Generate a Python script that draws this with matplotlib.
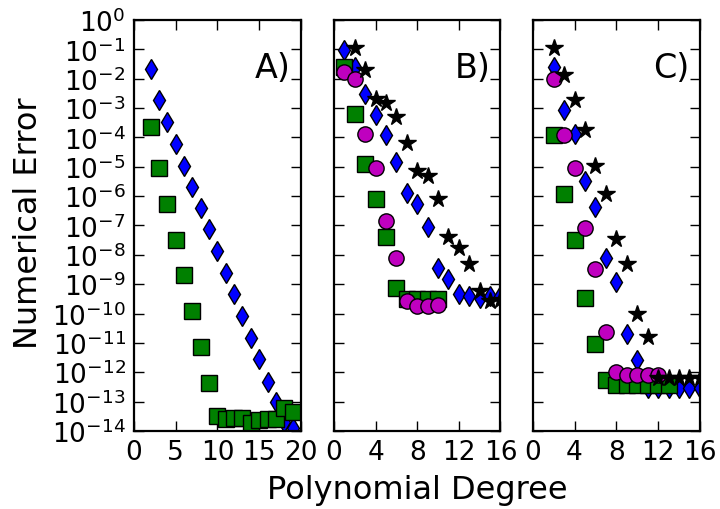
import numpy as np
import matplotlib
matplotlib.use('Agg')
import matplotlib.pyplot as plt
from matplotlib.ticker import FixedLocator, FixedFormatter, NullLocator

plt.rcParams['xtick.direction'] = 'in'
plt.rcParams['ytick.direction'] = 'in'
plt.rcParams['xtick.top'] = True
plt.rcParams['ytick.right'] = True

# values, stored as log10(error)
# panel A
xA = list(range(2, 20))
A_diamond = [-1.67, -2.72, -3.48, -4.24, -4.96, -5.69, -6.40, -7.13, -7.87,
             -8.61, -9.33, -10.08, -10.82, -11.56, -12.32, -13.03, -13.7, -13.9]
A_square = [-3.65, -5.03, -6.26, -7.48, -8.70, -9.92, -11.15, -12.36, -13.5,
            -13.6, -13.55, -13.55, -13.74, -13.62, -13.58, -13.58, -13.22, -13.36]

# panel B
xB_diamond = list(range(1, 17))
B_diamond = [-1.04, -1.61, -2.52, -3.23, -3.93, -4.84, -5.88, -6.26, -7.06,
             -8.45, -8.82, -9.34, -9.42, -9.48, -9.40, -9.40]
xB_star = list(range(2, 17))
B_star = [-0.96, -1.72, -2.69, -2.82, -3.31, -4.18, -5.13, -5.33, -6.09,
          -7.39, -7.77, -8.32, -9.24, -9.58, -9.55]
xB_square = list(range(1, 11))
B_square = [-1.61, -3.20, -4.90, -6.09, -7.41, -9.13, -9.52, -9.50, -9.50, -9.50]
xB_circle = list(range(1, 11))
B_circle = [-1.78, -2.00, -3.90, -5.04, -6.86, -8.11, -9.57, -9.74, -9.74, -9.72]

# panel C
xC_star = list(range(2, 17))
C_star = [-0.96, -1.86, -2.74, -3.75, -4.99, -5.94, -7.47, -8.30, -10.02,
          -10.79, -12.2, -12.2, -12.2, -12.2, -12.2]
xC_diamond = list(range(2, 17))
C_diamond = [-1.62, -3.08, -3.88, -5.50, -6.37, -8.11, -8.92, -10.71, -11.59,
             -12.55, -12.55, -12.55, -12.55, -12.55, -12.55]
xC_circle = list(range(2, 13))
C_circle = [-2.00, -3.93, -5.04, -7.09, -8.49, -10.63, -11.98, -12.08, -12.10,
            -12.10, -12.10]
xC_square = list(range(2, 14))
C_square = [-3.92, -5.92, -7.50, -9.46, -11.04, -12.27, -12.42, -12.44, -12.44,
            -12.44, -12.44, -12.44]

panel_labels = ['A)', 'B)', 'C)']
panel_xmax = [20, 16, 16]
xticksA = [0, 5, 10, 15, 20]
xticksBC = [0, 4, 8, 12, 16]
ytick_pow = list(range(0, -15, -1))
ytick_labels = ['$10^{%d}$' % p for p in ytick_pow]

blue = '#0000ff'
green = '#008000'
magenta = '#bf00bf'


def mk(ax, x, logy, marker, color, ms):
    ax.plot(x, 10.0 ** np.array(logy), linestyle='none', marker=marker,
            markersize=ms, markerfacecolor=color, markeredgecolor='k',
            markeredgewidth=1.0)


fig = plt.figure(figsize=(7.2, 5.1), dpi=100)
axA = fig.add_axes([0.186, 0.153, 0.232, 0.806])
axB = fig.add_axes([0.464, 0.153, 0.231, 0.806])
axC = fig.add_axes([0.740, 0.153, 0.232, 0.806])

mk(axA, xA, A_diamond, 'd', blue, 10.5)
mk(axA, xA, A_square, 's', green, 11)

mk(axB, xB_diamond, B_diamond, 'd', blue, 10.5)
mk(axB, xB_square, B_square, 's', green, 11)
mk(axB, xB_circle, B_circle, 'o', magenta, 11)
mk(axB, xB_star, B_star, '*', 'k', 13)

mk(axC, xC_diamond, C_diamond, 'd', blue, 10.5)
mk(axC, xC_square, C_square, 's', green, 11)
mk(axC, xC_circle, C_circle, 'o', magenta, 11)
mk(axC, xC_star, C_star, '*', 'k', 13)

axes = [axA, axB, axC]
for i in range(3):
    ax = axes[i]
    ax.set_yscale('log')
    ax.set_ylim(1e-14, 1e0)
    ax.set_xlim(0, panel_xmax[i])
    if i == 0:
        ax.set_xticks(xticksA)
    else:
        ax.set_xticks(xticksBC)
    ax.yaxis.set_major_locator(FixedLocator([10.0 ** p for p in ytick_pow]))
    ax.yaxis.set_minor_locator(NullLocator())
    if i == 0:
        ax.yaxis.set_major_formatter(FixedFormatter(ytick_labels))
    else:
        ax.set_yticklabels([])
    ax.tick_params(which='major', length=7, width=1, labelsize=19, pad=6)
    for s in ax.spines.values():
        s.set_linewidth(1.6)
    ax.text(0.94, 0.885, panel_labels[i], transform=ax.transAxes,
            ha='right', va='center', fontsize=24)

fig.text(0.04, 0.563, 'Numerical Error', rotation=90, ha='center',
         va='center', fontsize=23)
fig.text(0.58, 0.039, 'Polynomial Degree', ha='center', va='center',
         fontsize=23)

fig.savefig('out.png', dpi=100)
